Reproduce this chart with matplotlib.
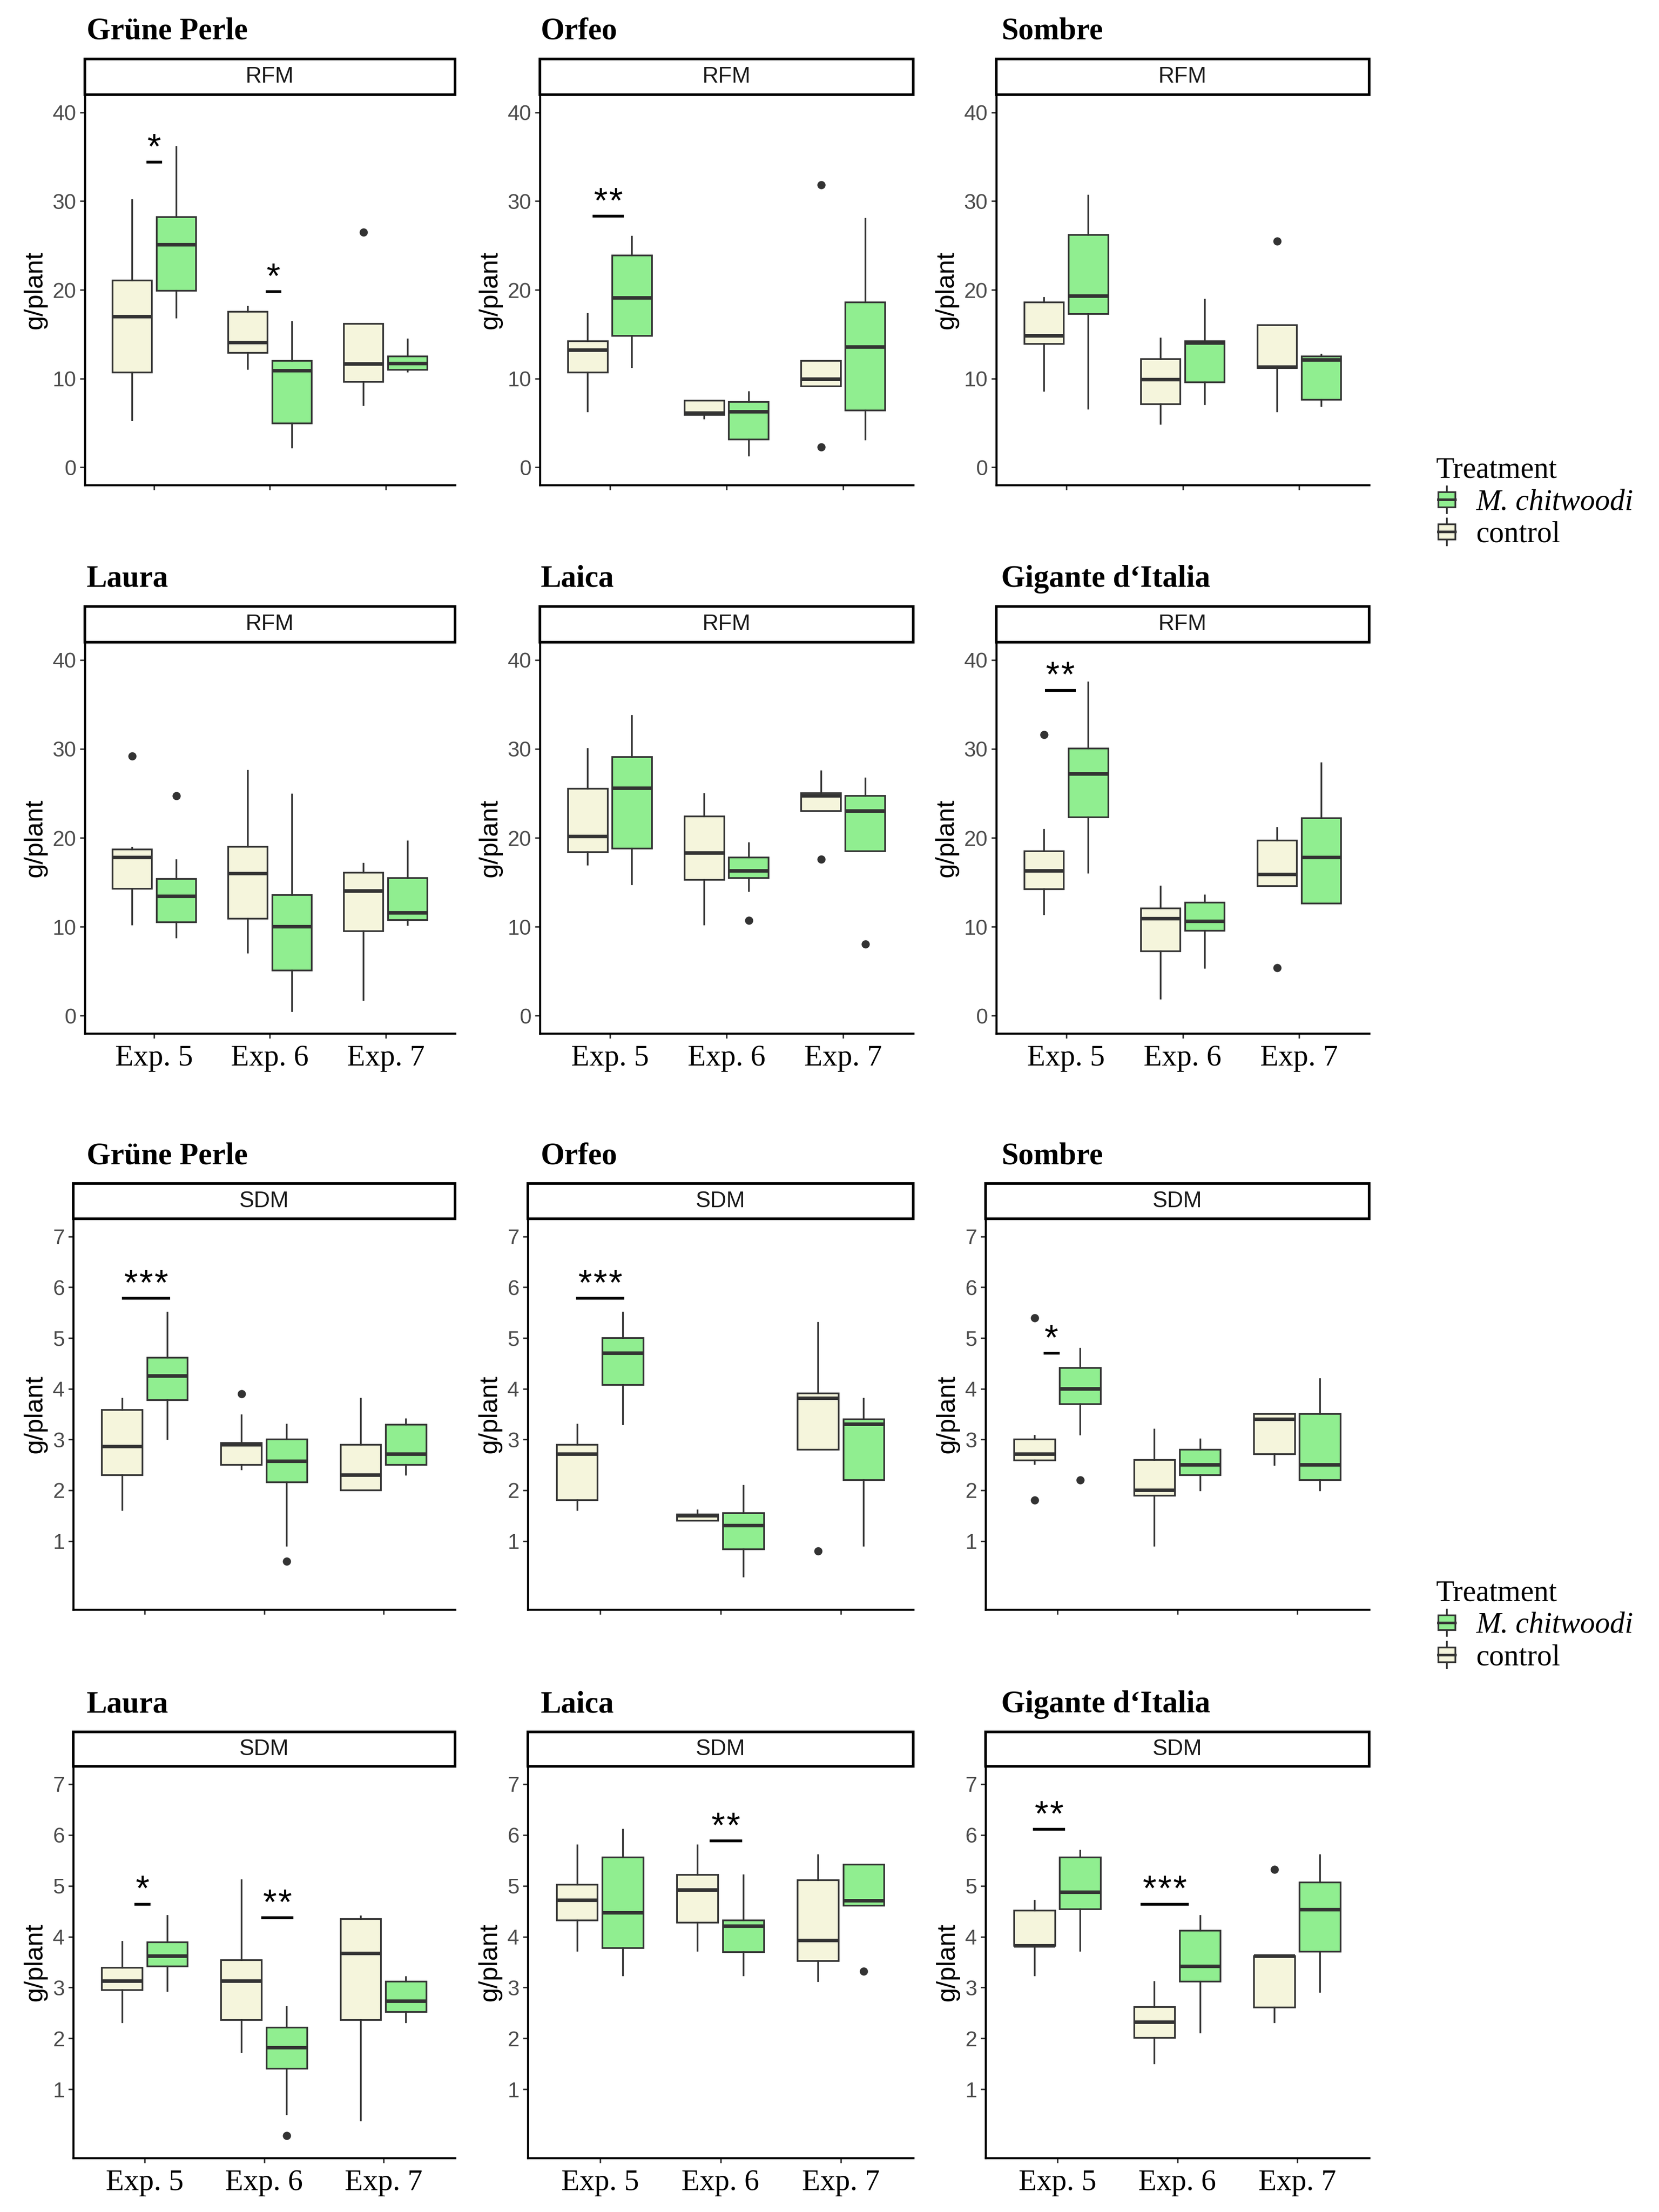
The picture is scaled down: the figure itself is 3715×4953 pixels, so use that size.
import matplotlib
matplotlib.use("Agg")
import matplotlib.pyplot as plt
import numpy as np
from matplotlib.patches import Rectangle, Patch
from matplotlib.lines import Line2D
from matplotlib.legend_handler import HandlerBase

# ---------------- data ----------------
cultivars = ["Grüne Perle", "Orfeo", "Sombre", "Laura", "Laica", "Gigante d\u2018Italia"]
experiments = ["Exp. 5", "Exp. 6", "Exp. 7"]
treatments = ["M. chitwoodi", "control"]

# five-number summaries [whisker low, Q1, median, Q3, whisker high] per experiment
rfm_control = [
    [[5.3, 10.7, 17.0, 21.05, 30.1], [11.1, 12.9, 14.05, 17.55, 18.1], [7.0, 9.65, 11.65, 16.15, 16.15]],
    [[6.3, 10.7, 13.2, 14.2, 17.3], [5.5, 5.9, 6.1, 7.5, 7.5], [9.15, 9.15, 9.95, 12.0, 12.0]],
    [[8.6, 13.9, 14.8, 18.6, 19.1], [4.9, 7.1, 9.9, 12.2, 14.5], [6.3, 11.2, 11.3, 16.0, 16.0]],
    [[10.25, 14.25, 17.8, 18.7, 18.9], [7.1, 10.9, 16.0, 19.0, 27.55], [1.75, 9.5, 14.0, 16.1, 17.1]],
    [[17.0, 18.4, 20.15, 25.5, 30.0], [10.25, 15.3, 18.3, 22.4, 24.9], [23.0, 23.0, 24.7, 25.0, 27.5]],
    [[11.4, 14.2, 16.3, 18.5, 20.9], [1.9, 7.25, 10.9, 12.05, 14.5], [14.6, 14.6, 15.9, 19.7, 21.1]],
]
rfm_mc = [
    [[16.9, 19.9, 25.1, 28.2, 36.1], [2.25, 4.95, 10.9, 12.0, 16.4], [10.8, 11.0, 11.7, 12.5, 14.4]],
    [[11.3, 14.8, 19.1, 23.9, 26.0], [1.3, 3.15, 6.25, 7.35, 8.45], [3.15, 6.4, 13.55, 18.6, 28.0]],
    [[6.6, 17.3, 19.3, 26.2, 30.6], [7.1, 9.6, 14.0, 14.2, 18.9], [6.9, 7.6, 12.1, 12.5, 12.7]],
    [[8.8, 10.5, 13.4, 15.4, 17.5], [0.5, 5.1, 10.0, 13.55, 24.85], [10.2, 10.75, 11.55, 15.5, 19.6]],
    [[14.8, 18.8, 25.6, 29.1, 33.7], [14.0, 15.5, 16.3, 17.8, 19.4], [18.5, 18.5, 23.0, 24.7, 26.7]],
    [[16.1, 22.3, 27.2, 30.05, 37.5], [5.4, 9.55, 10.6, 12.7, 13.5], [12.6, 12.6, 17.8, 22.2, 28.4]],
]
rfm_control_out = [
    [[], [], [26.5]],
    [[], [], [31.85, 2.3]],
    [[], [], [25.5]],
    [[29.2], [], []],
    [[], [], [17.6]],
    [[31.6], [], [5.4]],
]
rfm_mc_out = [
    [[], [], []],
    [[], [], []],
    [[], [], []],
    [[24.7], [], []],
    [[], [10.7], [8.05]],
    [[], [], []],
]

sdm_control = [
    [[1.61, 2.3, 2.86, 3.58, 3.8], [2.41, 2.5, 2.9, 2.93, 3.48], [2.0, 2.0, 2.3, 2.9, 3.8]],
    [[1.61, 1.81, 2.71, 2.9, 3.29], [1.4, 1.4, 1.5, 1.52, 1.6], [2.8, 2.8, 3.81, 3.91, 5.3]],
    [[2.52, 2.59, 2.71, 3.0, 3.07], [0.91, 1.89, 2.0, 2.6, 3.2], [2.5, 2.71, 3.4, 3.5, 3.5]],
    [[2.32, 2.95, 3.13, 3.39, 3.9], [1.73, 2.36, 3.13, 3.54, 5.11], [0.39, 2.36, 3.67, 4.35, 4.4]],
    [[3.72, 4.32, 4.72, 5.02, 5.8], [3.72, 4.28, 4.92, 5.22, 5.8], [3.13, 3.52, 3.93, 5.11, 5.6]],
    [[3.24, 3.82, 3.82, 4.51, 4.71], [1.51, 2.01, 2.32, 2.62, 3.11], [2.32, 2.61, 3.62, 3.62, 3.62]],
]
sdm_mc = [
    [[3.01, 3.78, 4.25, 4.61, 5.5], [0.91, 2.16, 2.57, 3.0, 3.29], [2.31, 2.5, 2.71, 3.29, 3.4]],
    [[3.3, 4.08, 4.7, 5.0, 5.5], [0.3, 0.84, 1.3, 1.55, 2.09], [0.91, 2.2, 3.3, 3.4, 3.8]],
    [[3.1, 3.7, 4.0, 4.41, 4.79], [2.0, 2.3, 2.5, 2.8, 3.0], [2.0, 2.2, 2.5, 3.5, 4.19]],
    [[2.93, 3.42, 3.62, 3.89, 4.41], [0.51, 1.41, 1.82, 2.21, 2.62], [2.32, 2.52, 2.73, 3.12, 3.21]],
    [[3.24, 3.78, 4.47, 5.56, 6.1], [3.24, 3.7, 4.21, 4.32, 5.21], [4.61, 4.61, 4.71, 5.42, 5.42]],
    [[3.72, 4.54, 4.87, 5.56, 5.69], [2.12, 3.12, 3.42, 4.12, 4.41], [2.92, 3.71, 4.53, 5.07, 5.6]],
]
sdm_control_out = [
    [[], [3.9], []],
    [[], [], [0.8]],
    [[5.4, 1.81], [], []],
    [[], [], []],
    [[], [], []],
    [[], [], [5.32]],
]
sdm_mc_out = [
    [[], [0.6], []],
    [[], [], []],
    [[2.2], [], []],
    [[], [0.09], []],
    [[], [], [3.32]],
    [[], [], []],
]

# significance marks: (cultivar index, experiment index, label, y value, x shift)
rfm_sig = [(0, 0, "*", 34.4, 0.0), (0, 1, "*", 19.8, 0.03),
           (1, 0, "**", 28.3, -0.013), (5, 0, "**", 36.6, -0.05)]
sdm_sig = [(0, 0, "***", 5.78, 0.01), (1, 0, "***", 5.78, 0.0), (2, 0, "*", 4.70, -0.05),
           (3, 0, "*", 4.64, -0.02), (3, 1, "**", 4.37, 0.11), (4, 1, "**", 5.88, 0.044),
           (5, 0, "**", 6.11, -0.07), (5, 1, "***", 4.64, -0.105)]

rfm_ticks = [0, 10, 20, 30, 40]
sdm_ticks = [1, 2, 3, 4, 5, 6, 7]

# ---------------- style ----------------
C_CTRL = "#F5F5DC"
C_MC = "#90EE90"
EDGE = "#333333"
SERIF = ["Liberation Serif", "DejaVu Serif"]
SANS = ["Liberation Sans", "DejaVu Sans"]

W, H = 3715, 4953
DPI = 300
fig = plt.figure(figsize=(W / DPI, H / DPI), dpi=DPI)
fig.patch.set_facecolor("white")

rfm_left = [190, 1209, 2231]
sdm_left = [164, 1182, 2207]
col_right = [1019, 2045, 3066]
title_x = [194, 1211, 2242]
# rows: (strip top, axes top, axes bottom)
rows = [(132, 212, 1086), (1358, 1438, 2314), (2650, 2729, 3604), (3878, 3955, 4832)]


def make_stats(summ, outs):
    return [dict(whislo=s[0], q1=s[1], med=s[2], q3=s[3], whishi=s[4], fliers=o)
            for s, o in zip(summ, outs)]


def draw_panel(row, col, cult, measure, ctrl, mc, ctrl_out, mc_out, sigs, ticks, ylim, show_x):
    strip_top, top, bottom = rows[row]
    left = rfm_left[col] if measure == "RFM" else sdm_left[col]
    right = col_right[col]
    ax = fig.add_axes([left / W, 1 - bottom / H, (right - left) / W, (bottom - top) / H])
    pos = np.arange(1, 4)
    common = dict(widths=0.34, patch_artist=True, showcaps=False, manage_ticks=False,
                  medianprops=dict(color=EDGE, linewidth=1.9, solid_capstyle="butt"),
                  whiskerprops=dict(color=EDGE, linewidth=0.9),
                  flierprops=dict(marker="o", markerfacecolor=EDGE, markeredgecolor=EDGE,
                                  markersize=3.4, linestyle="none"))
    ax.bxp(make_stats(ctrl, ctrl_out), positions=pos - 0.19,
           boxprops=dict(facecolor=C_CTRL, edgecolor=EDGE, linewidth=0.9), **common)
    ax.bxp(make_stats(mc, mc_out), positions=pos + 0.19,
           boxprops=dict(facecolor=C_MC, edgecolor=EDGE, linewidth=0.9), **common)

    for (ci, ei, lab, yv, sh) in sigs:
        if ci != cult:
            continue
        xc = pos[ei] + sh
        half = 0.067 * len(lab)
        ax.plot([xc - half, xc + half], [yv, yv], color="black", linewidth=1.5,
                solid_capstyle="butt")
        n = len(lab)
        for i in range(n):
            ax.annotate("*", (xc, yv), xytext=((i - (n - 1) / 2) * 8.2, 2.0),
                        textcoords="offset points", ha="center", va="baseline",
                        fontsize=19, family=SANS, color="black")

    ax.set_xlim(0.4, 3.6)
    ax.set_ylim(*ylim)
    ax.set_yticks(ticks)
    ax.set_yticklabels([str(t) for t in ticks], family=SANS, fontsize=11.5, color="#4D4D4D")
    ax.set_xticks(pos)
    if show_x:
        ax.set_xticklabels(experiments, family=SERIF, fontsize=16, color="black")
    else:
        ax.set_xticklabels([])
    ax.tick_params(axis="both", length=2.6, width=0.8, color="#333333")
    ax.tick_params(axis="y", pad=2)
    ax.tick_params(axis="x", pad=3.5)
    for s in ["top", "right"]:
        ax.spines[s].set_visible(False)
    for s in ["left", "bottom"]:
        ax.spines[s].set_linewidth(1.1)
        ax.spines[s].set_color("black")
    ax.set_ylabel("g/plant", family=SANS, fontsize=14, labelpad=3)

    # strip
    sh_frac = (top - strip_top) / (bottom - top)
    ax.add_patch(Rectangle((0, 1), 1, sh_frac, transform=ax.transAxes, facecolor="white",
                           edgecolor="black", linewidth=1.4, clip_on=False, zorder=5))
    ax.text(0.5, 1 + sh_frac / 2, measure, transform=ax.transAxes, ha="center",
            va="center", family=SANS, fontsize=12, color="#1A1A1A", zorder=6)
    # cultivar title
    fig.text(title_x[col] / W, 1 - (strip_top - 44) / H, cultivars[cult], ha="left",
             va="baseline", family=SERIF, fontsize=16.5, fontweight="bold")
    return ax


for k in range(6):
    r = k // 3
    c = k % 3
    draw_panel(r, c, k, "RFM", rfm_control[k], rfm_mc[k], rfm_control_out[k], rfm_mc_out[k],
               rfm_sig, rfm_ticks, (-2, 42), show_x=(r == 1))
    draw_panel(r + 2, c, k, "SDM", sdm_control[k], sdm_mc[k], sdm_control_out[k], sdm_mc_out[k],
               sdm_sig, sdm_ticks, (-0.35, 7.35), show_x=(r == 1))


class BoxHandler(HandlerBase):
    def create_artists(self, legend, orig_handle, xdescent, ydescent, width, height,
                       fontsize, trans):
        x0, y0 = -xdescent, -ydescent
        fc = orig_handle.get_facecolor()
        bx = x0 + width * 0.12
        bw = width * 0.76
        by = y0 + height * 0.22
        bh = height * 0.56
        rect = Rectangle((bx, by), bw, bh, facecolor=fc, edgecolor=EDGE, linewidth=0.9,
                         transform=trans)
        med = Line2D([bx, bx + bw], [by + bh / 2, by + bh / 2], color=EDGE, linewidth=1.4,
                     transform=trans)
        w1 = Line2D([x0 + width / 2] * 2, [y0, by], color=EDGE, linewidth=0.9, transform=trans)
        w2 = Line2D([x0 + width / 2] * 2, [by + bh, y0 + height], color=EDGE, linewidth=0.9,
                    transform=trans)
        return [w1, w2, rect, med]


for ytop in [0.7935, 0.2858]:
    handles = [Patch(facecolor=C_MC, edgecolor=EDGE), Patch(facecolor=C_CTRL, edgecolor=EDGE)]
    leg = fig.legend(handles=handles, labels=treatments, handler_map={Patch: BoxHandler()},
                     title="Treatment", loc="upper left", bbox_to_anchor=(0.8655, ytop),
                     frameon=False, prop=dict(family=SERIF, size=16),
                     title_fontproperties=dict(family=SERIF, size=16), alignment="left",
                     handlelength=0.75, handleheight=1.0, handletextpad=0.6,
                     labelspacing=0.08, borderaxespad=0, borderpad=0)
    leg.get_texts()[0].set_fontstyle("italic")

fig.savefig("out.png", dpi=DPI, facecolor="white")
